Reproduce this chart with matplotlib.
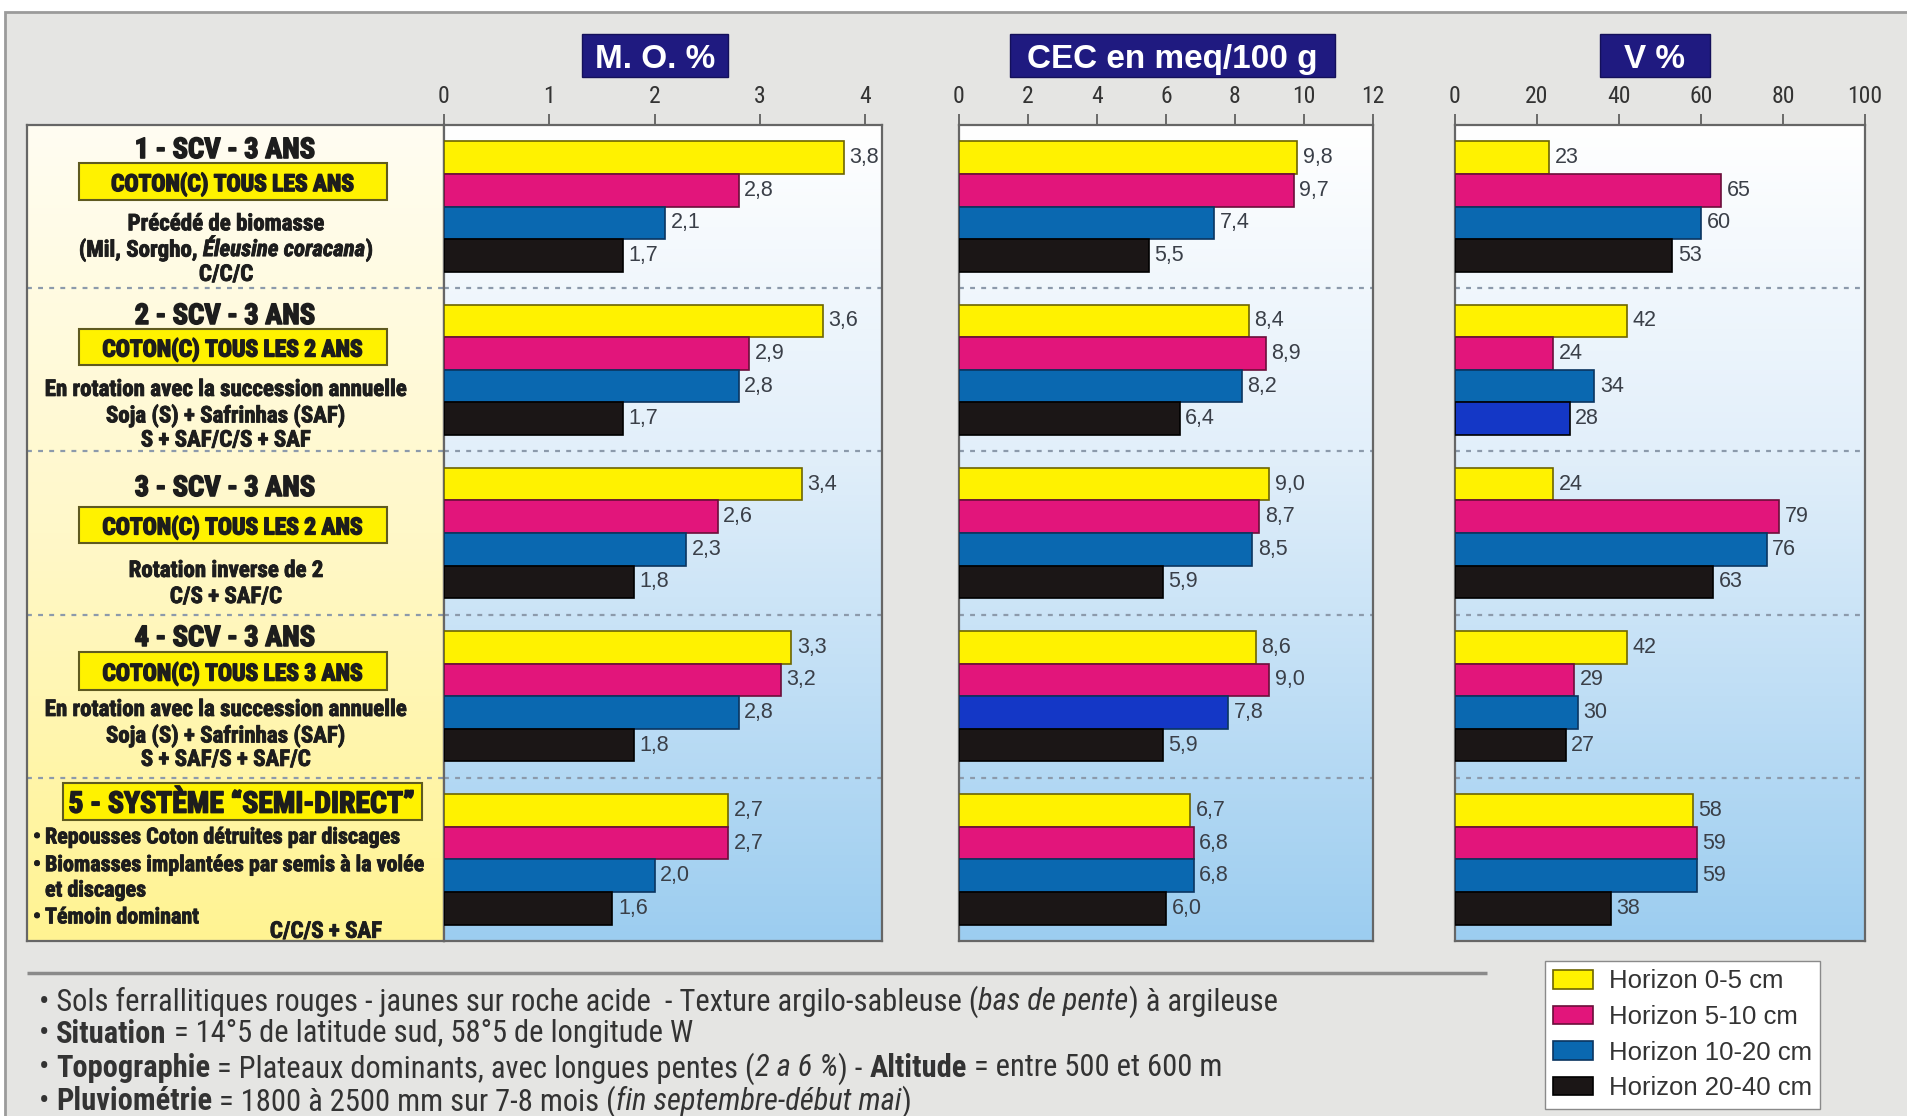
import os
import numpy as np
import matplotlib
matplotlib.use("Agg")
import matplotlib.pyplot as plt
from matplotlib import font_manager as fm
from matplotlib.font_manager import FontProperties
from matplotlib.patches import Rectangle, Patch
from matplotlib.colors import LinearSegmentedColormap
import matplotlib.patheffects as pe

# ------------------------------------------------------------------ data
horizons = ["Horizon 0-5 cm", "Horizon 5-10 cm", "Horizon 10-20 cm", "Horizon 20-40 cm"]

systems = ["1 - SCV - 3 ANS", "2 - SCV - 3 ANS", "3 - SCV - 3 ANS",
           "4 - SCV - 3 ANS", "5 - SYSTÈME “SEMI-DIRECT”"]
cotton_freq = ["COTON(C) TOUS LES ANS", "COTON(C) TOUS LES 2 ANS",
               "COTON(C) TOUS LES 2 ANS", "COTON(C) TOUS LES 3 ANS"]

mo_values = [[3.8, 2.8, 2.1, 1.7],
             [3.6, 2.9, 2.8, 1.7],
             [3.4, 2.6, 2.3, 1.8],
             [3.3, 3.2, 2.8, 1.8],
             [2.7, 2.7, 2.0, 1.6]]
cec_values = [[9.8, 9.7, 7.4, 5.5],
              [8.4, 8.9, 8.2, 6.4],
              [9.0, 8.7, 8.5, 5.9],
              [8.6, 9.0, 7.8, 5.9],
              [6.7, 6.8, 6.8, 6.0]]
v_values = [[23, 65, 60, 53],
            [42, 24, 34, 28],
            [24, 79, 76, 63],
            [42, 29, 30, 27],
            [58, 59, 59, 38]]

mo_ticks = [0, 1, 2, 3, 4]
cec_ticks = [0, 2, 4, 6, 8, 10, 12]
v_ticks = [0, 20, 40, 60, 80, 100]
panel_titles = ["M. O. %", "CEC en meq/100 g", "V %"]

# ------------------------------------------------------------------ fonts
_files = {os.path.basename(f.fname): f.fname for f in fm.fontManager.ttflist}


def pick_set(candidates, fallback):
    for names in candidates:
        if names[0] in _files:
            return [dict(fname=_files[n]) if n in _files else dict(fname=_files[names[0]])
                    for n in names]
    return fallback


HEAVY, HEAVY_IT = pick_set(
    [("RobotoCondensed-Bold.ttf", "RobotoCondensed-BoldItalic.ttf"),
     ("LiberationSansNarrow-Bold.ttf", "LiberationSansNarrow-BoldItalic.ttf"),
     ("DejaVuSansCondensed-Bold.ttf", "DejaVuSansCondensed-BoldOblique.ttf")],
    [dict(family="DejaVu Sans", weight="bold"),
     dict(family="DejaVu Sans", weight="bold", style="italic")])

NARROW, NARROW_B, NARROW_I = pick_set(
    [("LiberationSansNarrow-Regular.ttf", "LiberationSansNarrow-Bold.ttf",
      "LiberationSansNarrow-Italic.ttf"),
     ("RobotoCondensed-Regular.ttf", "RobotoCondensed-Bold.ttf", "RobotoCondensed-Italic.ttf"),
     ("DejaVuSansCondensed.ttf", "DejaVuSansCondensed-Bold.ttf", "DejaVuSansCondensed-Oblique.ttf")],
    [dict(family="Liberation Sans"),
     dict(family="Liberation Sans", weight="bold"),
     dict(family="Liberation Sans", style="italic")])

SANS = dict(family="Liberation Sans")
SANS_B = dict(family="Liberation Sans", weight="bold")


def FP(spec, size):
    return FontProperties(size=size, **spec)


# ------------------------------------------------------------------ figure
W, H, DPI = 1908, 1116, 100
fig = plt.figure(figsize=(W / DPI, H / DPI), dpi=DPI, facecolor="white")
renderer = fig.canvas.get_renderer()


def advance(s, spec, size):
    fp = FP(spec, size)
    w1 = renderer.get_text_width_height_descent("|" + s + "|", fp, ismath=False)[0]
    w0 = renderer.get_text_width_height_descent("||", fp, ismath=False)[0]
    return w1 - w0


def fit(s, spec, target_px, ref=20.0):
    return ref * target_px / advance(s, spec, ref)


def rich(ax, x, y, segs, size, ha="left", va="center_baseline", color="#222", effects=None):
    widths = [advance(t, spec, size) for t, spec in segs]
    total = sum(widths)
    x0 = x - total / 2 if ha == "center" else x
    for (t, spec), w in zip(segs, widths):
        ax.text(x0, y, t, fontproperties=FP(spec, size), ha="left", va=va, color=color,
                path_effects=effects)
        x0 += w


def frac(x0, y0, x1, y1):
    return [x0 / W, 1 - y1 / H, (x1 - x0) / W, (y1 - y0) / H]


# overlay in pixel units (y downwards) for frame, headers and footer
ov = fig.add_axes([0, 0, 1, 1], zorder=0)
ov.set_xlim(0, W)
ov.set_ylim(H, 0)
ov.axis("off")
ov.add_patch(Rectangle((5, 12), W, H, facecolor="#e5e5e3", edgecolor="#9b9b9b", lw=2))

# ------------------------------------------------------------------ panels
TOP, BOTTOM = 125, 941
panel_bg = LinearSegmentedColormap.from_list(
    "panel", [(0, "#ffffff"), (0.4, "#e2effa"), (1, "#9ccdf0")])
label_bg = LinearSegmentedColormap.from_list(
    "label", [(0, "#fffdf2"), (0.5, "#fff8c9"), (1, "#fff392")])
grad = np.linspace(0, 1, 256)[:, None]

bar_colors = ["#fff200", "#e2157b", "#0a68b0", "#1b1616"]
edge_colors = ["#6d6500", "#6a0e3a", "#0a3560", "#000000"]
royal_blue = "#1437c6"

SEP = dict(color="#8c9aab", lw=1.6, ls=(0, (2.2, 2.8)), zorder=2)


def style_frame(ax):
    for sp in ax.spines.values():
        sp.set_color("#666")
        sp.set_linewidth(1.6)


def bar_panel(rect, values, ticks, xmax, fmt, overrides):
    ax = fig.add_axes(frac(*rect), zorder=2)
    ax.imshow(grad, cmap=panel_bg, aspect="auto", extent=(0, 1, 0, 1),
              transform=ax.transAxes, zorder=0)
    vals = np.array(values, dtype=float)
    n = vals.shape[0]
    for s in range(4):
        ys = np.arange(n) + 0.2 + 0.2 * s
        cols = [overrides.get((g, s), bar_colors[s]) for g in range(n)]
        bars = ax.barh(ys, vals[:, s], height=0.2, color=cols,
                       edgecolor=edge_colors[s], linewidth=1.2, zorder=3)
        ax.bar_label(bars, labels=[fmt(v) for v in vals[:, s]], padding=4,
                     color="#3a3f48", fontproperties=FP(SANS, 15.5))
    for k in range(1, n):
        ax.axhline(k, **SEP)
    ax.set_xlim(0, xmax)
    ax.set_ylim(n, 0)
    ax.xaxis.set_ticks_position("top")
    ax.set_xticks(ticks)
    ax.set_xticklabels([str(t) for t in ticks])
    for lbl in ax.get_xticklabels():
        lbl.set_fontproperties(FP(NARROW, 17))
    ax.tick_params(axis="x", direction="out", length=8, width=1.2,
                   colors="#555", labelcolor="#333", pad=4)
    ax.set_yticks([])
    style_frame(ax)
    return ax


comma1 = lambda v: f"{v:.1f}".replace(".", ",")
ax_mo = bar_panel((444, TOP, 882, BOTTOM), mo_values, mo_ticks, 4.16, comma1, {})
ax_cec = bar_panel((959, TOP, 1373, BOTTOM), cec_values, cec_ticks, 12, comma1,
                   {(3, 2): royal_blue})
ax_v = bar_panel((1455, TOP, 1865, BOTTOM), v_values, v_ticks, 100,
                 lambda v: f"{v:.0f}", {(1, 3): royal_blue})

# header boxes
title_size = fit(panel_titles[1], SANS_B, 290)
for (x0, x1), t in zip([(582, 728), (1010, 1335), (1600, 1710)], panel_titles):
    ov.add_patch(Rectangle((x0, 34), x1 - x0, 43, facecolor="#1f1a80",
                           edgecolor="#14105a", lw=1))
    ov.text((x0 + x1) / 2, 56, t, fontproperties=FP(SANS_B, title_size),
            color="white", ha="center", va="center_baseline")

# ------------------------------------------------------------------ label column
lab = fig.add_axes(frac(27, TOP, 444, BOTTOM), zorder=1)
lab.imshow(grad, cmap=label_bg, aspect="auto", extent=(0, 1, 0, 1),
           transform=lab.transAxes, zorder=0)
lab.set_xlim(27, 444)
lab.set_ylim(5, 0)
lab.set_xticks([])
lab.set_yticks([])
style_frame(lab)
for k in range(1, 5):
    lab.axhline(k, **SEP)

CX = 230
INK = "#1d1d1d"
THICK = [pe.withStroke(linewidth=1.1, foreground=INK)]
THIN = [pe.withStroke(linewidth=0.6, foreground=INK)]
head_size = fit(systems[0], HEAVY, 180)
box_size = fit(cotton_freq[0], HEAVY, 243)
desc_size = fit("En rotation avec la succession annuelle", HEAVY, 362)

descriptions = [
    [[("Précédé de biomasse", HEAVY)],
     [("(Mil, Sorgho, ", HEAVY), ("Éleusine coracana", HEAVY_IT), (")", HEAVY)],
     [("C/C/C", HEAVY)]],
    [[("En rotation avec la succession annuelle", HEAVY)],
     [("Soja (S) + Safrinhas (SAF)", HEAVY)],
     [("S + SAF/C/S + SAF", HEAVY)]],
    [[("Rotation inverse de 2", HEAVY)],
     [("C/S + SAF/C", HEAVY)]],
    [[("En rotation avec la succession annuelle", HEAVY)],
     [("Soja (S) + Safrinhas (SAF)", HEAVY)],
     [("S + SAF/S + SAF/C", HEAVY)]],
]
head_y = [0.135, 0.152, 0.206, 0.125]
box_y = [(0.233, 0.460), (0.250, 0.470), (0.340, 0.560), (0.229, 0.462)]
desc_y = [[0.590, 0.748, 0.900], [0.605, 0.764, 0.915], [0.714, 0.874],
          [0.566, 0.725, 0.872]]

for g in range(4):
    lab.text(CX - 5, g + head_y[g], systems[g], fontproperties=FP(HEAVY, head_size),
             ha="center", va="center_baseline", color=INK, path_effects=THICK)
    b0, b1 = box_y[g]
    lab.add_patch(Rectangle((79, g + b0), 308, b1 - b0, facecolor="#fff200",
                            edgecolor="#5f5a20", lw=1.5, zorder=3))
    lab.text(233, g + (b0 + b1) / 2, cotton_freq[g], fontproperties=FP(HEAVY, box_size),
             ha="center", va="center_baseline", color=INK, zorder=4, path_effects=THICK)
    for segs, yy in zip(descriptions[g], desc_y[g]):
        rich(lab, CX - 4, g + yy, segs, desc_size, ha="center", color=INK, effects=THIN)

# semi-direct system
g = 4
lab.add_patch(Rectangle((63, g + 0.032), 359, 0.227, facecolor="#fff200",
                        edgecolor="#5f5a20", lw=1.5, zorder=3))
lab.text(242, g + 0.146, systems[4], fontproperties=FP(HEAVY, fit(systems[4], HEAVY, 346)),
         ha="center", va="center_baseline", color=INK, zorder=4, path_effects=THICK)
bullet_size = fit("Biomasses implantées par semis à la volée", HEAVY, 378)
bullets = [("•", "Repousses Coton détruites par discages", 0.350),
           ("•", "Biomasses implantées par semis à la volée", 0.520),
           ("", "et discages", 0.675),
           ("•", "Témoin dominant", 0.840)]
for mark, txt, yy in bullets:
    if mark:
        lab.text(33, g + yy, mark, fontproperties=FP(HEAVY, bullet_size),
                 ha="left", va="center_baseline", color=INK, path_effects=THIN)
    lab.text(45, g + yy, txt, fontproperties=FP(HEAVY, bullet_size),
             ha="left", va="center_baseline", color=INK, path_effects=THIN)
lab.text(326, g + 0.925, "C/C/S + SAF", fontproperties=FP(HEAVY, desc_size),
         ha="center", va="center_baseline", color=INK, path_effects=THIN)

# ------------------------------------------------------------------ footer
ov.plot([27, 1487], [973, 973], color="#8a8a8a", lw=2.5, solid_capstyle="butt")
footer = [
    [("• Sols ferrallitiques rouges - jaunes sur roche acide  - Texture argilo-sableuse (", NARROW),
     ("bas de pente", NARROW_I), (") à argileuse", NARROW)],
    [("• ", NARROW), ("Situation", NARROW_B),
     (" = 14°5 de latitude sud, 58°5 de longitude W", NARROW)],
    [("• ", NARROW), ("Topographie", NARROW_B),
     (" = Plateaux dominants, avec longues pentes (", NARROW), ("2 a 6 %", NARROW_I),
     (") - ", NARROW), ("Altitude", NARROW_B), (" = entre 500 et 600 m", NARROW)],
    [("• ", NARROW), ("Pluviométrie", NARROW_B),
     (" = 1800 à 2500 mm sur 7-8 mois (", NARROW), ("fin septembre-début mai", NARROW_I),
     (")", NARROW)],
]
ref = 20.0
w_first = sum(advance(t, s, ref) for t, s in footer[0])
foot_size = 0.94 * ref * (1353 - 39) / w_first
for segs, yy in zip(footer, [998, 1031, 1065, 1098]):
    rich(ov, 39, yy, segs, foot_size, color="#333")

# ------------------------------------------------------------------ legend
handles = [Patch(facecolor=c, edgecolor=e, lw=1.2) for c, e in zip(bar_colors, edge_colors)]
fig.legend(handles, horizons, loc="upper left", bbox_to_anchor=(1545 / W, 1 - 961 / H),
           bbox_transform=fig.transFigure, borderaxespad=0, prop=FP(SANS, 18.5),
           handlelength=1.55, handleheight=0.72, handletextpad=0.6, labelspacing=0.45,
           borderpad=0.33, frameon=True, fancybox=False, framealpha=1,
           edgecolor="#8a8a8a", facecolor="white", labelcolor="#333")

fig.savefig("out.png", dpi=DPI, facecolor=fig.get_facecolor())
